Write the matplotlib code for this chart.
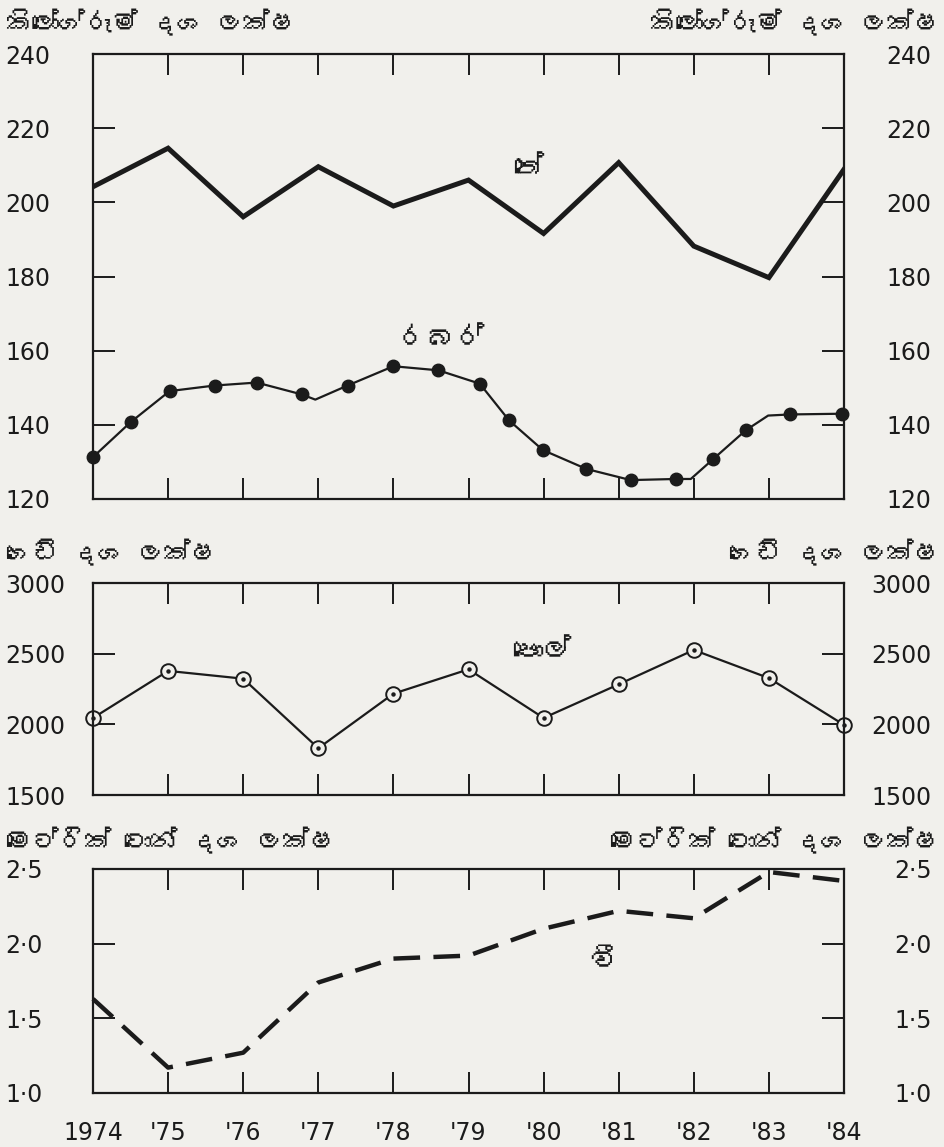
import matplotlib
matplotlib.use('Agg')
import matplotlib.pyplot as plt
from matplotlib import font_manager
from fontTools.ttLib import TTFont

# Data
years = [1974, 1975, 1976, 1977, 1978, 1979, 1980, 1981, 1982, 1983, 1984]
year_labels = ['1974', "'75", "'76", "'77", "'78", "'79", "'80", "'81", "'82", "'83", "'84"]

# tea (million kg)
tea = [204.2, 214.6, 196.1, 209.6, 199.0, 206.0, 191.6, 210.7, 188.2, 179.7, 208.9]

# rubber (million kg), points drawn roughly every half year
rubber_x = [1974.0, 1974.5, 1975.02, 1975.62, 1976.18, 1976.78, 1976.96, 1977.39, 1978.0,
            1978.6, 1979.15, 1979.54, 1979.99, 1980.57, 1981.16, 1981.76, 1981.96,
            1982.26, 1982.69, 1982.99, 1983.28, 1983.98]
rubber = [131.3, 140.7, 149.1, 150.6, 151.4, 148.2, 146.8, 150.6, 155.8,
          154.7, 151.1, 141.2, 133.2, 128.1, 125.1, 125.4, 125.4,
          130.8, 138.5, 142.5, 142.8, 143.0]
rubber_marked = [0, 1, 2, 3, 4, 5, 7, 8, 9, 10, 11, 12, 13, 14, 15, 17, 18, 20, 21]

# coconut (million nuts)
coconut = [2045, 2378, 2323, 1831, 2217, 2389, 2045, 2283, 2526, 2327, 1996]

# paddy (million metric tons)
paddy = [1.63, 1.17, 1.27, 1.74, 1.90, 1.92, 2.10, 2.22, 2.17, 2.48, 2.42]

top_ticks = [120, 140, 160, 180, 200, 220, 240]
mid_ticks = [1500, 2000, 2500, 3000]
bot_ticks = [1.0, 1.5, 2.0, 2.5]
bot_labels = ['1·0', '1·5', '2·0', '2·5']

title_kg = 'කිලෝග්රෑම් දශ ලක්ෂ'
title_nuts = 'ගෙඩි දශ ලක්ෂ'
title_mt = 'මෙට්රික් ටොන් දශ ලක්ෂ'

# find a font that has Sinhala letters, if any is installed
sin_font = 'DejaVu Sans'
for f in font_manager.fontManager.ttflist:
    try:
        cmap = TTFont(f.fname, fontNumber=0, lazy=True).getBestCmap()
        if 0x0DC3 in cmap and 0x0DCA in cmap:
            sin_font = f.name
            break
    except Exception:
        pass
sin_family = [sin_font, 'DejaVu Sans']

ink = '#1b1b1b'
bg = '#f1f0ec'
plt.rcParams['font.family'] = ['DejaVu Sans']

W, H = 945, 1147
fig = plt.figure(figsize=(W / 100, H / 100), dpi=100)
fig.patch.set_facecolor(bg)

left, right = 93 / W, 844 / W


def panel(top_px, bot_px):
    ax = fig.add_axes([left, 1 - bot_px / H, right - left, (bot_px - top_px) / H])
    ax.set_facecolor('none')
    for s in ax.spines.values():
        s.set_linewidth(1.6)
        s.set_color(ink)
    ax.set_xlim(1974, 1984)
    ax.set_xticks(years)
    ax.tick_params(axis='x', direction='in', top=True, bottom=True, length=15,
                   width=1.4, color=ink, labelsize=17, labelcolor=ink, pad=20)
    ax.tick_params(axis='y', direction='in', left=True, right=True, labelleft=True,
                   labelright=True, length=16, width=1.4, color=ink, labelsize=17,
                   labelcolor=ink, pad=63)
    return ax


def align_y(ax):
    for t in ax.yaxis.get_major_ticks():
        t.label1.set_ha('left')
        t.label2.set_ha('right')


# tea and rubber
ax1 = panel(54, 499)
ax1.set_ylim(120, 240)
ax1.set_yticks(top_ticks)
ax1.set_xticklabels([])
ax1.plot(years, tea, color=ink, lw=3.6, solid_joinstyle='miter')
ax1.plot(rubber_x, rubber, color=ink, lw=1.6, marker='o', ms=9,
         markevery=rubber_marked, clip_on=False)
ax1.text(1979.8, 209, 'තේ', family=sin_family, fontsize=21, fontweight='bold',
         ha='center', va='center', color=ink)
ax1.text(1978.64, 163, 'රබර්', family=sin_family, fontsize=21, fontweight='bold',
         ha='center', va='center', color=ink)
align_y(ax1)

# coconut
ax2 = panel(583, 795)
ax2.set_ylim(1500, 3000)
ax2.set_yticks(mid_ticks)
ax2.set_xticklabels([])
ax2.plot(years, coconut, color=ink, lw=1.6, marker='o', ms=10.5, mfc=bg, mec=ink,
         mew=1.4, clip_on=False)
ax2.plot(years, coconut, ls='none', marker='o', ms=2.2, color=ink, clip_on=False)
ax2.text(1979.98, 2515, 'පොල්', family=sin_family, fontsize=21, fontweight='bold',
         ha='center', va='center', color=ink)
align_y(ax2)

# paddy
ax3 = panel(869, 1093)
ax3.set_ylim(1.0, 2.5)
ax3.set_yticks(bot_ticks)
ax3.set_yticklabels(bot_labels)
ax3.set_xticklabels(year_labels)
ax3.plot(years, paddy, color=ink, lw=3.2, dashes=(6, 3), dash_capstyle='butt',
         clip_on=False)
ax3.text(1980.8, 1.88, 'වී', family=sin_family, fontsize=21, fontweight='bold',
         ha='center', va='center', color=ink)
align_y(ax3)

# unit titles, left and right of each panel
for ttl, y_px in [(title_kg, 22), (title_nuts, 552), (title_mt, 840)]:
    fig.text(6 / W, 1 - y_px / H, ttl, family=sin_family, fontsize=19, fontweight='bold',
             ha='left', va='center', color=ink)
    fig.text(940 / W, 1 - y_px / H, ttl, family=sin_family, fontsize=19, fontweight='bold',
             ha='right', va='center', color=ink)

fig.savefig('out.png', dpi=100, facecolor=bg)
